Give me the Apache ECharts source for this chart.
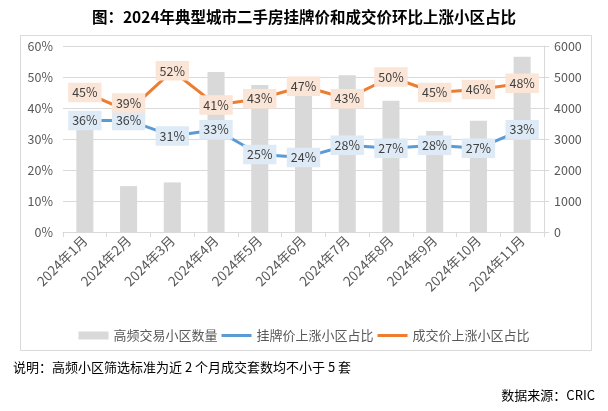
<!DOCTYPE html>
<html><head><meta charset="utf-8">
<script src="https://cdn.jsdelivr.net/npm/echarts@6/dist/echarts.min.js"></script>
<style>html,body{margin:0;padding:0;background:#fff}#c{width:608px;height:411px}</style>
</head><body><div id="c"></div>
<script>
const categories = ['2024年1月','2024年2月','2024年3月','2024年4月','2024年5月','2024年6月','2024年7月','2024年8月','2024年9月','2024年10月','2024年11月'];
const barCounts = [3550, 1480, 1600, 5160, 4740, 4650, 5060, 4230, 3260, 3590, 5650];
const listingUp = [36, 36, 31, 33, 25, 24, 28, 27, 28, 27, 33];
const dealUp = [45, 39, 52, 41, 43, 47, 43, 50, 45, 46, 48];
const seriesNames = ['高频交易小区数量','挂牌价上涨小区占比','成交价上涨小区占比'];
const titleText = '图：2024年典型城市二手房挂牌价和成交价环比上涨小区占比';
const noteText = '说明：高频小区筛选标准为近 2 个月成交套数均不小于 5 套';
const sourceText = '数据来源：CRIC';

const FONT = "'Noto Sans CJK SC', sans-serif";
// label nudges (style only) to avoid overlap, as in the reference
const dealLabelShift = {1: [0, -8]};
const dealData = dealUp.map((v, i) => dealLabelShift[i] ? {value: v, label: {offset: dealLabelShift[i]}} : v);

const labelBase = {show:true, position:'inside', formatter:'{c}%', color:'#404040', fontSize:12.5,
                   padding:[4,4,3,4], fontFamily: FONT};
const chart = echarts.init(document.getElementById('c'), null, {renderer:'canvas'});
chart.setOption({
  backgroundColor: '#fff',
  animation: false,
  textStyle: {fontFamily: FONT},
  title: {
    text: titleText, left: 'center', top: 4,
    textStyle: {fontSize: 15.5, fontWeight: 'bold', color: '#000', fontFamily: FONT}
  },
  graphic: [
    {type:'rect', shape:{x:20.5, y:35.5, width:571, height:315}, style:{fill:'none', stroke:'#D9D9D9', lineWidth:1}, z:-1},
    {type:'text', left: 13, top: 361, style:{text: noteText, fontSize: 13, fill:'#000', fontFamily: FONT}},
    {type:'text', right: 13, top: 389, style:{text: sourceText, fontSize: 13, fill:'#000', fontFamily: FONT}}
  ],
  legend: {
    bottom: 64, left: 'center', itemGap: 4, itemWidth: 30, itemHeight: 8,
    textStyle: {fontSize: 13, color:'#595959', fontFamily: FONT},
    data: [
      {name: seriesNames[0], icon: 'rect'},
      {name: seriesNames[1], icon: 'path://M0,0h30v3h-30z'},
      {name: seriesNames[2], icon: 'path://M0,0h30v3h-30z'}
    ]
  },
  grid: {left: 63, right: 64, top: 46, bottom: 179},
  xAxis: {
    type: 'category', data: categories,
    axisLine: {lineStyle:{color:'#D9D9D9'}},
    axisTick: {show:true, alignWithLabel:false, lineStyle:{color:'#D9D9D9'}, length:5},
    axisLabel: {rotate: 45, interval: 0, color:'#595959', fontSize: 13.5, margin: 6, fontFamily: FONT}
  },
  yAxis: [
    {type:'value', min:0, max:60, interval:10,
     axisLabel:{formatter:'{value}%', color:'#595959', fontSize:12.5, margin:10},
     splitLine:{lineStyle:{color:'#D9D9D9'}},
     axisLine:{show:false}, axisTick:{show:false}},
    {type:'value', min:0, max:6000, interval:1000,
     axisLabel:{formatter: v => String(v), color:'#595959', fontSize:12.5, margin:10},
     splitLine:{show:false},
     axisLine:{show:true, lineStyle:{color:'#D9D9D9'}}, axisTick:{show:true, length:5, lineStyle:{color:'#D9D9D9'}}}
  ],
  series: [
    {name: seriesNames[0], type:'bar', yAxisIndex:1, data: barCounts, barWidth:'39%',
     itemStyle:{color:'#D9D9D9'}, z:1},
    {name: seriesNames[1], type:'line', yAxisIndex:0, data: listingUp, symbol:'circle', symbolSize:3, showSymbol:true,
     lineStyle:{color:'#5B9BD5', width:3}, itemStyle:{color:'#5B9BD5'}, z:3,
     label: Object.assign({}, labelBase, {backgroundColor:'#DEEBF7'})},
    {name: seriesNames[2], type:'line', yAxisIndex:0, data: dealData, symbol:'circle', symbolSize:3, showSymbol:true,
     lineStyle:{color:'#ED7D31', width:3}, itemStyle:{color:'#ED7D31'}, z:3,
     label: Object.assign({}, labelBase, {backgroundColor:'#FBE5D6'})}
  ]
});
</script></body></html>
